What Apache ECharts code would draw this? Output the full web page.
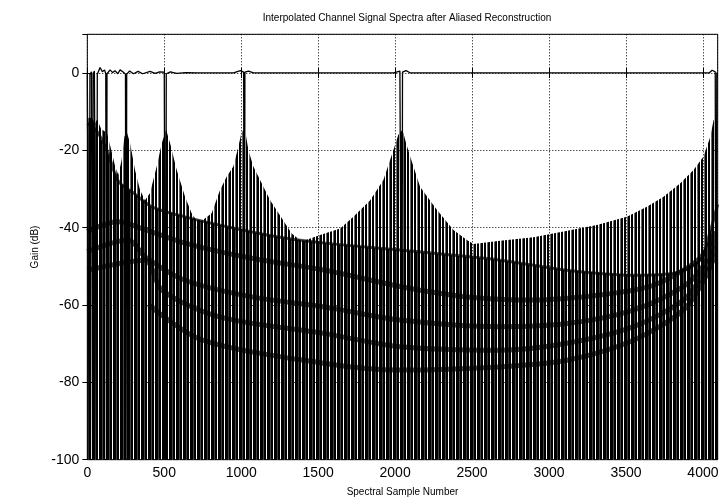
<!DOCTYPE html>
<html>
<head>
<meta charset="utf-8">
<script src="https://cdn.jsdelivr.net/npm/echarts@6/dist/echarts.min.js"></script>
<style>html,body{margin:0;padding:0;background:#fff}#c{width:723px;height:500px}</style>
</head>
<body>
<div id="c"></div>
<script>
// ---- data (x = spectral sample, y = gain dB) ----
const titleText = 'Interpolated Channel Signal Spectra after Aliased Reconstruction';
const xName = 'Spectral Sample Number';
const yName = 'Gain (dB)';
const xMin = 0, xMax = 4096, xStep = 500;
const yMin = -100, yMax = 10, yStep = 20;

// 0 dB pass-band line with its notches
const refLine = [[0,-0.3],[10,-0.5],[13,-100],[17,-0.4],[27,0.3],[34,-100],[38,-0.2],[46,0.5],[56,0.1],[60,-100],[65,-0.3],[83,1.4],[98,0.3],[112,0.8],[120,-0.2],[124,-100],[128,-0.2],[148,0.8],[165,0.1],[180,0.6],[198,-0.2],[213,0.8],[235,0.2],[248,-0.3],[252,-100],[256,-0.3],[275,0.5],[300,-0.2],[330,0.4],[360,-0.2],[408,0.4],[440,-0.1],[470,0.3],[500,0.2],[505,-0.2],[509,-100],[513,-0.2],[540,0.3],[580,-0.1],[640,0.1],[720,0],[950,0],[995,0.6],[1016,0.2],[1020,-100],[1024,0.2],[1047,0.5],[1080,0],[1990,0],[2031,0.5],[2040,0.2],[2044,-100],[2048,0.2],[2071,0.6],[2100,0],[4040,0],[4060,0.7],[4080,0.3],[4085,-100],[4090,0],[4096,0]];

// upper envelopes of the aliased image spectra
const peakLow  = [[0,-11.8],[16,-11.5],[32,-11.8],[50,-13],[64,-12],[90,-14.5],[128,-15.5],[150,-19],[180,-24],[202,-26.4]];
const peak256  = [[202,-26.4],[223,-22.5],[241,-16.5],[256,-15.2],[278,-18.2],[310,-25.1],[343,-30.3],[375,-32.9]];
const peak512  = [[375,-32.9],[407,-31.1],[451,-24.2],[484,-18.2],[512,-14.7],[538,-18.2],[581,-25.1],[635,-32],[678,-36.3],[722,-38.9]];
const peak1024 = [[722,-38.9],[808,-36.3],[862,-30.3],[906,-26.8],[949,-24.2],[982,-19],[1003,-15.2],[1024,-14.6],[1047,-20],[1079,-24.2],[1188,-32.9],[1328,-41.5],[1393,-43.6]];
const peak2048 = [[1393,-43.6],[1513,-41.9],[1643,-40.2],[1729,-37.2],[1838,-32.9],[1924,-27.7],[1989,-19.9],[2021,-16],[2048,-14.7],[2070,-18],[2098,-21.6],[2162,-29.4],[2271,-35.4],[2379,-40.6],[2466,-43.2],[2509,-44.2]];
const peakTop  = [[2509,-44.2],[2683,-43.4],[2899,-42.5],[3094,-41],[3311,-39.3],[3506,-37.2],[3636,-34.6],[3744,-32],[3853,-28.5],[3939,-25.1],[4004,-21.6],[4048,-16.5],[4069,-12.2],[4084,-11.7],[4096,-12]];

// darker side-lobe envelope bands
const bandA = [[0,-13],[60,-15],[128,-20],[202,-28],[300,-31],[419,-34.6],[635,-37.2],[960,-40.2],[1285,-42.7],[1545,-44],[2033,-45.8],[2683,-48.4],[3116,-51],[3549,-52.3],[3809,-51.8],[3982,-48.4],[4040,-42],[4096,-34]];
const bandC = [[0,-41],[202,-38.5],[267,-39],[635,-44],[1068,-47.9],[1545,-51],[2033,-55.2],[2466,-57.9],[2899,-58.7],[3332,-57.4],[3657,-55.2],[3874,-51],[4000,-47],[4080,-41]];
const bandD = [[0,-46.2],[267,-43.2],[375,-47.5],[635,-53.6],[1068,-57.9],[1545,-60.5],[2033,-63.9],[2683,-65.6],[3116,-64.8],[3549,-61.3],[3874,-55.2],[4000,-50],[4080,-43]];
const bandE = [[0,-51],[375,-48.4],[484,-56.1],[852,-63],[1545,-67.4],[2033,-70.8],[2683,-71.7],[3116,-69.9],[3549,-65.6],[3874,-58.7],[4000,-52],[4080,-45]];
const bandF = [[400,-60],[744,-69],[1545,-75.1],[2033,-76.8],[2683,-76],[3116,-74.3],[3549,-69.1],[3874,-61.3],[4000,-54],[4080,-47]];

// ---- styling helpers ----
function stripeURL(cols) {
  const c = document.createElement('canvas');
  c.width = cols.length; c.height = 4;
  const ctx = c.getContext('2d');
  cols.forEach((col, i) => { if (col) { ctx.fillStyle = col; ctx.fillRect(i, 0, 1, 4); } });
  return c.toDataURL('image/png');
}
function loadImg(src) {
  return new Promise(res => { const im = new Image(); im.onload = () => res(im); im.onerror = () => res(im); im.src = src; });
}

const FONT = 'Liberation Sans, Arial, sans-serif';

function areaSeries(data, img) {
  return { type: 'line', data: data, showSymbol: false, symbol: 'none', silent: true,
    lineStyle: { width: 0 }, areaStyle: { color: { image: img, repeat: 'repeat' }, opacity: 1, origin: 'start' } };
}
function bandSeries(data, w) {
  return { type: 'line', data: data, showSymbol: false, symbol: 'none', silent: true, smooth: 0.3,
    lineStyle: { width: w, color: '#000', opacity: 0.7 } };
}

Promise.all([
  loadImg(stripeURL([null, '#000', '#000', null, '#666', '#000', '#000'])),
  loadImg(stripeURL([null, '#000', '#000', '#000', '#444', '#000', '#000']))
]).then(([lightImg, denseImg]) => {
  const chart = echarts.init(document.getElementById('c'), null, { renderer: 'canvas', devicePixelRatio: 1 });
  chart.setOption({
    animation: false,
    backgroundColor: '#fff',
    title: { text: titleText, left: 402, top: 8, textAlign: 'center',
      textStyle: { fontSize: 10, fontWeight: 'normal', fontFamily: FONT, color: '#000' } },
    grid: { left: 87.3, right: 5.3, top: 34.3, bottom: 40.3, show: true, borderColor: '#000', borderWidth: 1,
      containLabel: false, outerBoundsMode: 'none' },
    xAxis: [
      { type: 'value', min: xMin, max: xMax, interval: xStep, position: 'bottom',
        name: xName, nameLocation: 'middle', nameGap: 28,
        nameTextStyle: { fontSize: 10, fontFamily: FONT, color: '#000' },
        axisLine: { show: false },
        axisTick: { inside: true, length: 5, lineStyle: { color: '#000' } },
        axisLabel: { fontSize: 14, fontFamily: FONT, color: '#000', margin: 6, showMaxLabel: false,
          formatter: v => String(v) },
        splitLine: { show: true, lineStyle: { type: [1, 2], color: '#000', width: 1 } } },
      { type: 'value', min: xMin, max: xMax, interval: xStep, position: 'top',
        axisLine: { show: false },
        axisTick: { inside: true, length: 5, lineStyle: { color: '#000' } },
        axisLabel: { show: false }, splitLine: { show: false } }
    ],
    yAxis: [
      { type: 'value', min: yMin, max: yMax, interval: yStep, position: 'left',
        name: yName, nameLocation: 'middle', nameGap: 38,
        nameTextStyle: { fontSize: 10, fontFamily: FONT, color: '#000' },
        axisLine: { show: false },
        axisTick: { inside: true, length: 5, lineStyle: { color: '#000' } },
        axisLabel: { fontSize: 14, fontFamily: FONT, color: '#000', margin: 8, showMaxLabel: false,
          formatter: v => String(v) },
        splitLine: { show: true, lineStyle: { type: [1, 2], color: '#000', width: 1 } } },
      { type: 'value', min: yMin, max: yMax, interval: yStep, position: 'right',
        axisLine: { show: false },
        axisTick: { inside: true, length: 5, lineStyle: { color: '#000' } },
        axisLabel: { show: false }, splitLine: { show: false } }
    ],
    series: [
      areaSeries(peakLow, lightImg),
      areaSeries(peak256, lightImg),
      areaSeries(peak512, lightImg),
      areaSeries(peak1024, lightImg),
      areaSeries(peak2048, lightImg),
      areaSeries(peakTop, lightImg),
      areaSeries(bandA, denseImg),
      bandSeries(bandA, 3),
      bandSeries(bandC, 5),
      bandSeries(bandD, 5),
      bandSeries(bandE, 5),
      bandSeries(bandF, 5),
      { type: 'line', data: refLine, showSymbol: false, symbol: 'none', silent: true,
        lineStyle: { width: 1.3, color: '#000' } }
    ]
  });
});
</script>
</body>
</html>
